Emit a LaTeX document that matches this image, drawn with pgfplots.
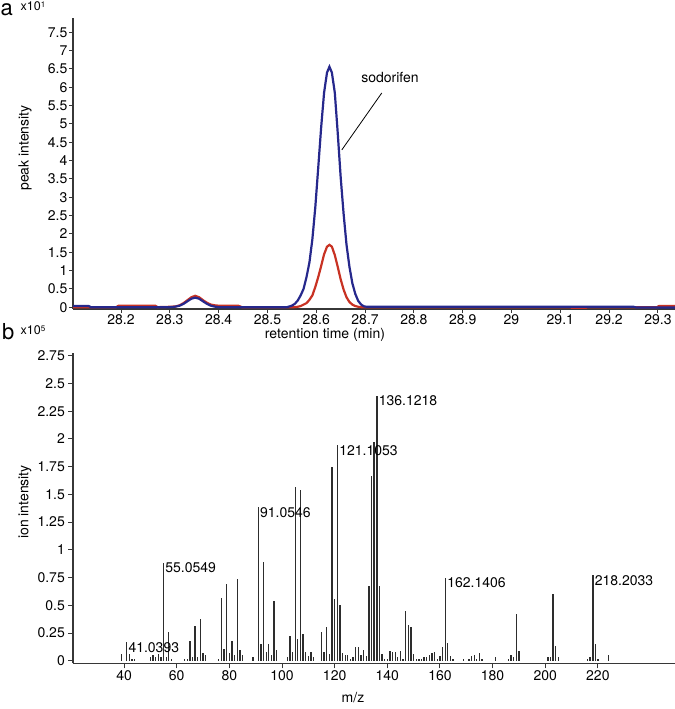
\documentclass[border=0pt]{standalone}
\usepackage{fontspec}
\setmainfont{TeX Gyre Heros}
\usepackage{pgfplots}
\pgfplotsset{compat=1.18}
\definecolor{cblue}{RGB}{38,40,140}
\definecolor{cred}{RGB}{200,50,35}
\definecolor{axgray}{RGB}{55,55,55}
\definecolor{bargray}{RGB}{45,45,45}
\newcommand{\fs}{\fontsize{14bp}{16bp}\selectfont}
\begin{document}
\begin{tikzpicture}[font=\fs]
\useasboundingbox (0bp,0bp) rectangle (675bp,709bp);
% ---------- panel a ----------
\begin{axis}[
  at={(73bp,400bp)}, anchor=south west,
  scale only axis, width=602bp, height=291bp,
  xmin=28.1016, xmax=29.335, ymin=-0.05, ymax=7.89,
  axis lines=left, axis line style={-, axgray, line width=1.1bp},
  tick align=outside, major tick length=4bp, tick style={axgray, line width=1bp},
  xtick={28.2,28.3,28.4,28.5,28.6,28.7,28.8,28.9,29,29.1,29.2,29.3},
  ytick={0,0.5,1,1.5,2,2.5,3,3.5,4,4.5,5,5.5,6,6.5,7,7.5},
  /pgf/number format/assume math mode=true,
  ticklabel style={font=\fs},
  xticklabel style={inner sep=1bp},
  yticklabel style={inner sep=1.5bp},
]
\addplot[cred, line width=2.2bp] coordinates {
(28.1016,0.0)(28.130,0.0)(28.190,0.0)(28.195,0.04)(28.270,0.04)(28.275,0.0)
(28.300,0.01)(28.312,0.02)(28.320,0.05)(28.328,0.11)(28.336,0.19)(28.344,0.27)
(28.352,0.31)(28.360,0.27)(28.368,0.19)(28.376,0.12)(28.384,0.07)(28.392,0.05)
(28.400,0.04)(28.410,0.04)(28.440,0.04)(28.448,0.0)
(28.555,0.0)(28.562,0.01)(28.568,0.03)(28.574,0.07)(28.580,0.11)(28.586,0.20)
(28.592,0.32)(28.598,0.55)(28.604,0.82)(28.610,1.12)(28.616,1.44)(28.622,1.65)
(28.627,1.70)(28.632,1.65)(28.638,1.42)(28.644,1.10)(28.650,0.76)(28.656,0.48)
(28.662,0.27)(28.668,0.14)(28.674,0.07)(28.680,0.03)(28.686,0.01)(28.692,0.0)
(29.120,0.0)(29.124,-0.02)(29.152,-0.02)(29.156,0.0)
(29.298,0.0)(29.302,0.03)(29.335,0.03)
};
\addplot[cblue, line width=2.2bp] coordinates {
(28.1016,0.03)(28.134,0.03)(28.138,0.0)
(28.300,0.0)(28.310,0.01)(28.320,0.04)(28.328,0.09)(28.336,0.16)(28.344,0.23)
(28.352,0.26)(28.360,0.23)(28.368,0.16)(28.376,0.09)(28.384,0.04)(28.392,0.015)
(28.400,0.0)
(28.540,0.0)(28.550,0.04)(28.556,0.09)(28.562,0.18)(28.568,0.32)(28.574,0.50)
(28.580,0.82)(28.586,1.22)(28.592,1.85)(28.598,2.72)(28.604,3.80)(28.610,4.90)
(28.616,5.85)(28.622,6.40)(28.627,6.56)(28.632,6.40)(28.638,5.85)(28.644,4.75)
(28.650,3.55)(28.656,2.55)(28.662,1.70)(28.668,1.10)(28.674,0.65)(28.680,0.36)
(28.686,0.17)(28.692,0.07)(28.698,0.02)(28.704,0.01)
(29.250,0.01)(29.256,-0.01)(29.335,-0.01)
};
\draw[black, line width=0.8bp] (axis cs:28.7342,5.844) -- (axis cs:28.6523,4.29);
\node[inner sep=0pt] at (axis cs:28.7512,6.27) {sodorifen};
\end{axis}
% ---------- panel b ----------
\begin{axis}[
  at={(73bp,45.7bp)}, anchor=south west,
  scale only axis, width=602bp, height=310.3bp,
  xmin=20.6, xmax=249.3, ymin=-0.023, ymax=2.775,
  axis lines=left, axis line style={-, axgray, line width=1.1bp},
  tick align=outside, major tick length=5bp, tick style={axgray, line width=1bp},
  xtick={40,60,80,100,120,140,160,180,200,220},
  ytick={0,0.25,0.5,0.75,1,1.25,1.5,1.75,2,2.25,2.5,2.75},
  /pgf/number format/assume math mode=true,
  ticklabel style={font=\fs},
  xticklabel style={inner sep=2bp},
  yticklabel style={inner sep=3bp},
]
\addplot[ycomb, bargray, line width=1.3bp, mark=none] coordinates {
(39,0.058)(41.04,0.166)(42,0.06)(43,0.02)(44,0.02)
(50,0.03)(51,0.05)(52,0.03)(53,0.06)(54,0.03)(55.05,0.884)(56,0.03)(57,0.26)(58,0.02)
(63,0.02)(64,0.02)(65,0.18)(66,0.03)(67,0.315)(68,0.03)(69,0.38)(70,0.07)(71,0.05)
(76,0.02)(77,0.57)(78,0.11)(79,0.69)(80,0.07)(81,0.18)(82,0.05)(83,0.74)(84,0.10)(85,0.05)
(89,0.03)(91.05,1.383)(92,0.15)(93,0.89)(94,0.08)(95,0.15)(96,0.05)(97,0.54)(98,0.10)
(102,0.03)(103,0.22)(104,0.08)(105,1.57)(106,0.20)(107,1.54)(108,0.24)(109,0.08)(110,0.04)(111,0.08)(112,0.03)
(115,0.26)(116,0.08)(117,0.30)(118,0.06)(119,1.745)(120,0.555)(121.11,1.945)(122,0.50)(123,0.07)(124,0.05)
(125,0.05)(126,0.02)(127,0.03)(128,0.12)(129,0.12)(130,0.05)(131,0.10)(132,0.04)(133,0.67)(134,1.665)
(135,1.97)(136.12,2.39)(137,0.67)(138,0.06)(139,0.02)(140,0.02)(141,0.09)(142,0.08)(143,0.08)(144,0.03)
(145,0.09)(146,0.02)(147,0.45)(148,0.32)(149,0.30)(150,0.06)(151,0.02)(152,0.02)(153,0.02)(154,0.03)
(155,0.03)(156,0.05)(157,0.07)(158,0.08)(159,0.02)(160,0.04)(161,0.12)(162.14,0.748)(163,0.157)(164,0.04)(165,0.02)
(169,0.02)(171,0.02)(172,0.04)(173,0.05)(174,0.02)(175,0.07)(176,0.02)(181,0.03)
(186,0.02)(187,0.05)(188,0.03)(189,0.42)(190,0.09)
(201,0.03)(202,0.03)(203,0.60)(204,0.13)(205,0.03)
(216,0.02)(217,0.03)(218.2,0.773)(219,0.155)(220,0.02)(224,0.05)
};
\foreach \mx/\my/\lab in {41.04/0.166/41.0393, 55.05/0.884/55.0549, 91.05/1.383/91.0546,
  121.11/1.945/121.1053, 136.12/2.39/136.1218, 162.14/0.748/162.1406, 218.2/0.773/218.2033}{
  \edef\tmp{\noexpand\node[anchor=north west, inner xsep=1.5bp, inner ysep=0pt] at (axis cs:\mx,\my) {\lab};}
  \tmp
}
\end{axis}
% ---------- texts ----------
\node[anchor=base west, inner sep=0pt, font=\fontsize{22bp}{24bp}\selectfont] at (0.5bp,693bp) {a};
\node[anchor=base west, inner sep=0pt, font=\fontsize{12.5bp}{14bp}\selectfont] at (20.5bp,698.3bp) {x10\raisebox{0.55ex}{\fontsize{8bp}{9bp}\selectfont 1}};
\node[anchor=base west, inner sep=0pt, font=\fontsize{22bp}{24bp}\selectfont] at (2bp,369bp) {b};
\node[anchor=base west, inner sep=0pt, font=\fontsize{12.5bp}{14bp}\selectfont] at (20.5bp,374bp) {x10\raisebox{0.55ex}{\fontsize{8bp}{9bp}\selectfont 5}};
\node[rotate=90, inner sep=0pt] at (25bp,561bp) {peak intensity};
\node[rotate=90, inner sep=0pt] at (25bp,207bp) {ion intensity};
\node[inner sep=0pt] at (325bp,374bp) {retention time (min)};
\node[inner sep=0pt] at (353bp,11bp) {m/z};
\end{tikzpicture}
\end{document}
